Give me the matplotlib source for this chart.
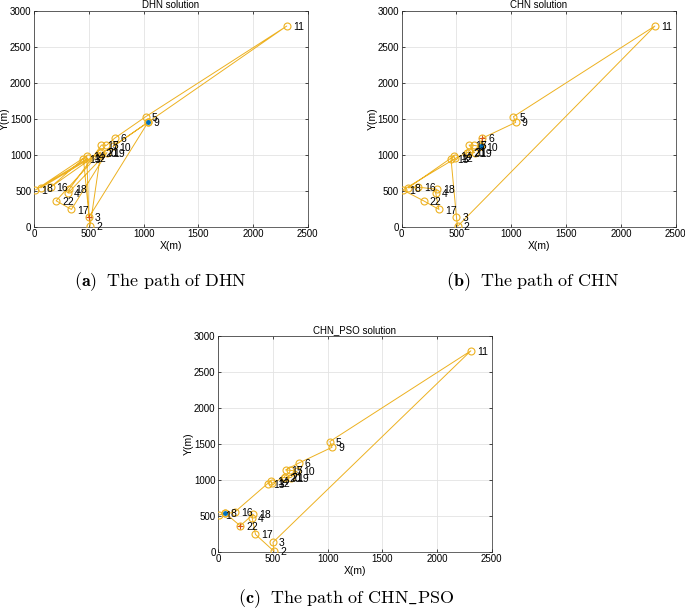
import matplotlib
matplotlib.use('Agg')
import matplotlib.pyplot as plt
import numpy as np

plt.rcParams['font.family'] = ['Liberation Sans', 'DejaVu Sans']
plt.rcParams['mathtext.fontset'] = 'cm'

# city coordinates (m), city i at index i-1
city_x = [10, 510, 500, 310, 1020, 735, 660, 60, 1040, 720, 2310,
          490, 450, 480, 615, 150, 340, 320, 665, 600, 610, 200]
city_y = [510, 5, 130, 470, 1530, 1230, 1130, 540, 1450, 1115, 2790,
          950, 945, 985, 1135, 550, 240, 520, 1030, 1030, 1040, 360]
city_ids = list(range(1, 23))

# tours (closed), first city = start, second last = end
tour_dhn = [9, 10, 11, 5, 6, 7, 15, 18, 4, 19, 17, 22, 21, 2, 13, 16, 20, 8, 12, 1, 14, 3, 9]
tour_chn = [10, 7, 15, 19, 20, 21, 12, 1, 22, 17, 4, 18, 16, 8, 14, 13, 3, 2, 11, 5, 9, 6, 10]
tour_pso = [8, 1, 16, 13, 14, 12, 21, 20, 19, 10, 7, 15, 6, 9, 5, 11, 3, 2, 17, 4, 18, 22, 8]

titles = ['DHN solution', 'CHN solution', 'CHN_PSO solution']
captions = [r'$\mathbf{(a)}$  $\mathrm{The\ path\ of\ DHN}$',
            r'$\mathbf{(b)}$  $\mathrm{The\ path\ of\ CHN}$',
            r'$\mathbf{(c)}$  $\mathrm{The\ path\ of\ CHN\_PSO}$']
tours = [tour_dhn, tour_chn, tour_pso]

orange = '#EDB120'
blue = '#0072BD'

fig = plt.figure(figsize=(6.85, 6.13), dpi=100)
boxes = [[0.0500, 0.6302, 0.399, 0.3520],
         [0.5864, 0.6302, 0.400, 0.3520],
         [0.3187, 0.1000, 0.399, 0.3524]]
cap_pos = [(0.234, 0.540), (0.778, 0.540), (0.505, 0.024)]

cx = np.array(city_x)
cy = np.array(city_y)

for box, tour, title, cap, cp in zip(boxes, tours, titles, captions, cap_pos):
    ax = fig.add_axes(box)
    idx = np.array(tour) - 1
    ax.plot(cx[idx], cy[idx], '-o', color=orange, lw=0.7, ms=5,
            mfc='none', mew=0.8, zorder=3)
    ax.plot(cx[idx[0]], cy[idx[0]], '.', color=blue, ms=5, zorder=4)
    ax.plot(cx[idx[-2]], cy[idx[-2]], '+', color='#D95319', ms=5, mew=0.8, zorder=4)
    for i in city_ids:
        ax.text(city_x[i - 1] + 55, city_y[i - 1] - 15, str(i), fontsize=7.5,
                va='center', ha='left', zorder=5)
    ax.set_xlim(0, 2500)
    ax.set_ylim(0, 3000)
    ax.set_xticks([0, 500, 1000, 1500, 2000, 2500])
    ax.set_yticks([0, 500, 1000, 1500, 2000, 2500, 3000])
    ax.grid(True, color='#e3e3e3', lw=0.6)
    ax.set_axisbelow(True)
    ax.tick_params(labelsize=7, direction='in', length=2.5, width=0.5,
                   top=True, right=True, pad=2)
    for s in ax.spines.values():
        s.set_linewidth(0.5)
        s.set_color('#262626')
    ax.set_title(title, fontsize=7, pad=2)
    ax.set_xlabel('X(m)', fontsize=7.5, labelpad=1)
    ax.set_ylabel('Y(m)', fontsize=7.5, labelpad=0)
    fig.text(cp[0], cp[1], cap, fontsize=13, ha='center', va='center')

fig.savefig('out.png', dpi=100)
